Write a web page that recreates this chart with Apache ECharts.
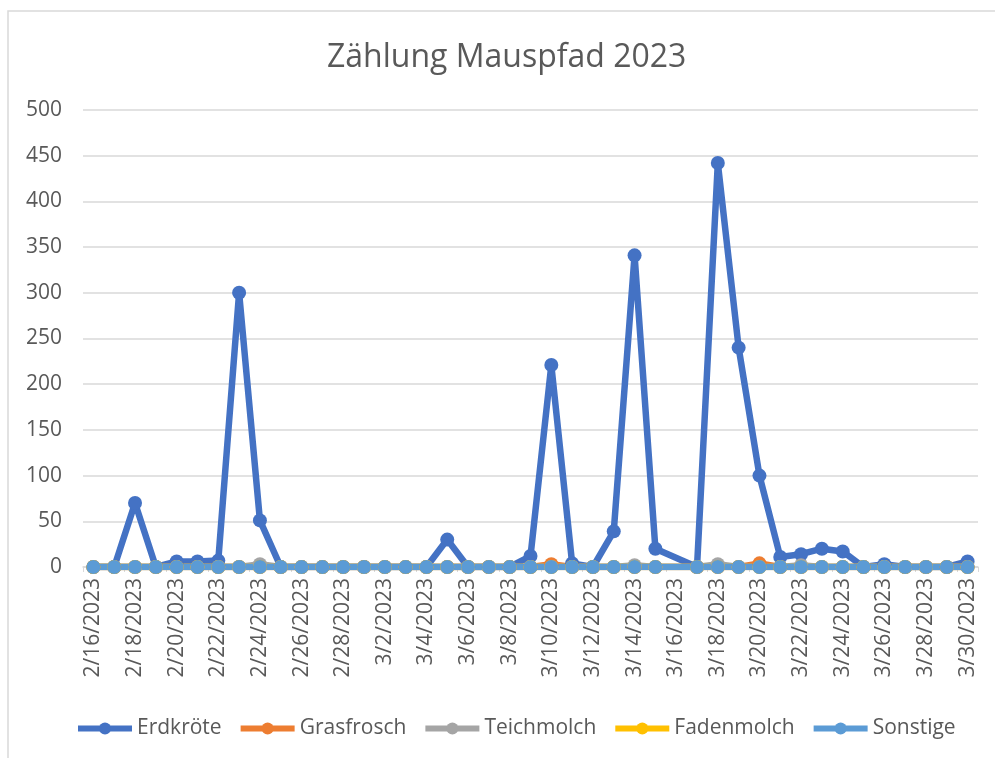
<!DOCTYPE html>
<html>
<head>
<meta charset="utf-8">
<script src="https://cdn.jsdelivr.net/npm/echarts@6/dist/echarts.min.js"></script>
<style>
  html, body { margin: 0; padding: 0; background: #fff; }
  #chart { width: 995px; height: 758px; }
</style>
</head>
<body>
<div id="chart"></div>
<script>
const dates = [
  '2/16/2023', '2/17/2023', '2/18/2023', '2/19/2023', '2/20/2023', '2/21/2023', '2/22/2023',
  '2/23/2023', '2/24/2023', '2/25/2023', '2/26/2023', '2/27/2023', '2/28/2023', '3/1/2023',
  '3/2/2023', '3/3/2023', '3/4/2023', '3/5/2023', '3/6/2023', '3/7/2023', '3/8/2023',
  '3/9/2023', '3/10/2023', '3/11/2023', '3/12/2023', '3/13/2023', '3/14/2023', '3/15/2023',
  '3/16/2023', '3/17/2023', '3/18/2023', '3/19/2023', '3/20/2023', '3/21/2023', '3/22/2023',
  '3/23/2023', '3/24/2023', '3/25/2023', '3/26/2023', '3/27/2023', '3/28/2023', '3/29/2023',
  '3/30/2023'
];

// 3/16 has no entry in the sheet, line is connected over it
const erdkroete = [0, 0, 70, 0, 6, 6, 7, 300, 51, 0, 0, 0, 0, 0, 0, 0, 0, 30, 0, 0, 0,
  12, 221, 4, 0, 39, 341, 20, null, 0, 442, 240, 100, 11, 14, 20, 17, 0, 3, 0, 0, 0, 6];
const grasfrosch = [0, 0, 0, 0, 0, 0, 0, 0, 0, 0, 0, 0, 0, 0, 0, 0, 0, 0, 0, 0, 0,
  0, 3, 0, 0, 0, 0, 0, null, 0, 0, 0, 4, 0, 0, 0, 0, 0, 0, 0, 0, 0, 0];
const teichmolch = [0, 0, 0, 0, 0, 0, 0, 0, 3, 0, 0, 0, 0, 0, 0, 0, 0, 0, 0, 0, 0,
  0, 0, 0, 0, 0, 2, 0, null, 0, 3, 0, 0, 0, 2, 0, 0, 0, 0, 0, 0, 0, 0];
const fadenmolch = [0, 0, 0, 0, 0, 0, 0, 0, 0, 0, 0, 0, 0, 0, 0, 0, 0, 0, 0, 0, 0,
  0, 0, 0, 0, 0, 0, 0, null, 0, 0, 0, 0, 0, 0, 0, 0, 0, 0, 0, 0, 0, 0];
const sonstige = [0, 0, 0, 0, 0, 0, 0, 0, 0, 0, 0, 0, 0, 0, 0, 0, 0, 0, 0, 0, 0,
  0, 0, 0, 0, 0, 0, 0, null, 0, 0, 0, 0, 0, 0, 0, 0, 0, 0, 0, 0, 0, 0];

const seriesList = [
  { name: 'Erdkröte', data: erdkroete, color: '#4472C4' },
  { name: 'Grasfrosch', data: grasfrosch, color: '#ED7D31' },
  { name: 'Teichmolch', data: teichmolch, color: '#A5A5A5' },
  { name: 'Fadenmolch', data: fadenmolch, color: '#FFC000' },
  { name: 'Sonstige', data: sonstige, color: '#5B9BD5' }
];

const font = '"Open Sans", "Noto Sans", sans-serif';
const textColor = '#595959';

const chart = echarts.init(document.getElementById('chart'));

const option = {
  backgroundColor: '#fff',
  animation: false,
  textStyle: { fontFamily: font },
  graphic: [{
    type: 'rect',
    shape: { x: 8, y: 11, width: 1000, height: 800 },
    style: { fill: 'none', stroke: '#D9D9D9', lineWidth: 1.5 },
    silent: true
  }],
  title: {
    text: 'Zählung Mauspfad 2023',
    left: 322,
    top: 37,
    textStyle: { fontFamily: font, fontSize: 32, fontWeight: 'normal', color: textColor }
  },
  legend: {
    left: 70,
    top: 713,
    itemWidth: 54,
    itemHeight: 15,
    itemGap: 16,
    lineStyle: { width: 6 },
    textStyle: { fontFamily: font, fontSize: 21, color: textColor },
    data: seriesList.map(s => s.name)
  },
  grid: { left: 83, right: 17, top: 110, bottom: 191 },
  xAxis: {
    type: 'category',
    data: dates,
    boundaryGap: true,
    axisLine: { lineStyle: { color: '#D9D9D9', width: 1.5 } },
    axisTick: { show: true, interval: 1, length: 5, lineStyle: { color: '#D9D9D9' } },
    axisLabel: {
      interval: 1,
      rotate: 90,
      margin: 11,
      fontFamily: font,
      fontSize: 21,
      color: textColor
    },
    splitLine: { show: false }
  },
  yAxis: {
    type: 'value',
    min: 0,
    max: 500,
    interval: 50,
    axisLine: { show: false },
    axisTick: { show: false },
    axisLabel: { margin: 21, fontFamily: font, fontSize: 21, color: textColor },
    splitLine: { lineStyle: { color: '#D9D9D9', width: 1.5 } }
  },
  series: seriesList.map(s => ({
    name: s.name,
    type: 'line',
    data: s.data,
    connectNulls: true,
    showAllSymbol: true,
    symbol: 'circle',
    symbolSize: 14,
    color: s.color,
    lineStyle: { width: 6.5, color: s.color },
    itemStyle: { color: s.color }
  }))
};

chart.setOption(option);
</script>
</body>
</html>
